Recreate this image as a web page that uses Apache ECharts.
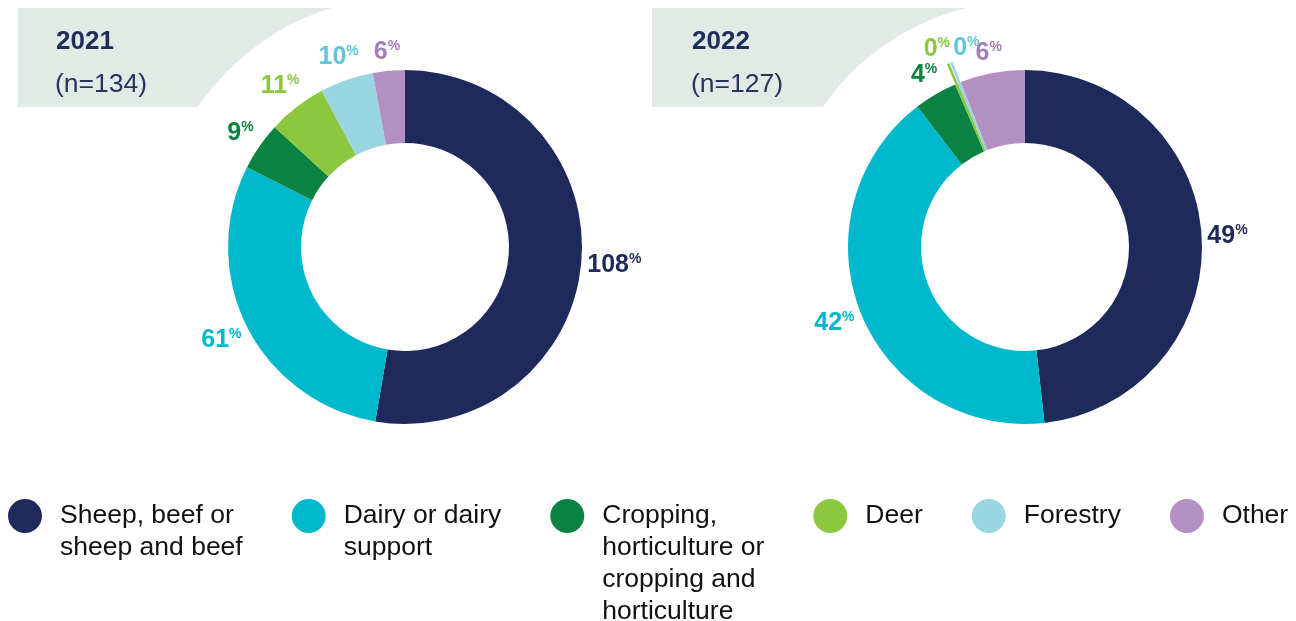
<!DOCTYPE html>
<html>
<head>
<meta charset="utf-8">
<script src="https://cdn.jsdelivr.net/npm/echarts@6/dist/echarts.min.js"></script>
<style>
  html, body { margin: 0; padding: 0; background: #ffffff; }
  #chart { width: 1296px; height: 621px; }
</style>
</head>
<body>
<div id="chart"></div>
<script>
// Farm types, one entry per slice / legend item
const categories = [
  'Sheep, beef or sheep and beef',
  'Dairy or dairy support',
  'Cropping, horticulture or cropping and horticulture',
  'Deer',
  'Forestry',
  'Other'
];
// Legend text, broken into lines
const legendLines = [
  ['Sheep, beef or', 'sheep and beef'],
  ['Dairy or dairy', 'support'],
  ['Cropping,', 'horticulture or', 'cropping and', 'horticulture'],
  ['Deer'],
  ['Forestry'],
  ['Other']
];
const years = ['2021', '2022'];
const sampleSizes = ['(n=134)', '(n=127)'];
const values2021 = [108, 61, 9, 11, 10, 6];
const values2022 = [49, 42, 4, 0, 0, 6];

// Styling
const sliceColors = ['#1F2A5C', '#00B8CB', '#0A8241', '#8DC63F', '#9AD6E2', '#B490C2'];
const labelColors = ['#1F2A5C', '#00B8CB', '#0A8241', '#8DC63F', '#5EC5DA', '#A27EBA'];
const navy = '#1F2D5A';
const headerFill = '#E1EAE4';
const fontFamily = '"Liberation Sans", Arial, Helvetica, sans-serif';
const pieCenters = [[405, 247], [1025, 247]];
const headerCut = [250, 246];

const seriesValues = [values2021, values2022];

// Puts each value label just beyond its slice, along the slice's leader direction.
function placeLabel(params) {
  const pts = params.labelLinePoints;
  if (!pts) return {};
  const vals = seriesValues[params.seriesIndex];
  const p0 = pts[0], p1 = pts[1];
  let ux = p1[0] - p0[0], uy = p1[1] - p0[1];
  const len = Math.hypot(ux, uy) || 1;
  ux /= len; uy /= len;
  if (vals[params.dataIndex] === 0) {
    // empty categories: the label sits on the tip of its leader line
    const firstZero = vals.indexOf(0) === params.dataIndex;
    return {
      x: p1[0] + 2,
      y: p1[1] - 1,
      align: firstZero ? 'right' : 'left',
      verticalAlign: 'bottom',
      labelLinePoints: pts
    };
  }
  const hw = params.labelRect.width / 2, hh = params.labelRect.height / 2;
  const d = hw * Math.abs(ux) + hh * Math.abs(uy);
  return {
    x: p1[0] + ux * d,
    y: p1[1] + uy * d,
    align: 'center',
    verticalAlign: 'middle',
    labelLinePoints: pts
  };
}

function buildData(values) {
  return values.map(function (v, i) {
    const item = {
      name: categories[i],
      value: v,
      itemStyle: { color: sliceColors[i] },
      label: { color: labelColors[i] }
    };
    if (v === 0) {
      item.labelLine = { length: 22, lineStyle: { opacity: 1, width: 2.5 } };
    }
    return item;
  });
}

function pieSeries(idx, values) {
  return {
    type: 'pie',
    center: pieCenters[idx],
    radius: [104, 177],
    startAngle: 90,
    clockwise: true,
    minAngle: 1,
    avoidLabelOverlap: false,
    silent: true,
    itemStyle: { borderWidth: 0 },
    label: {
      show: true,
      position: 'outside',
      fontFamily: fontFamily,
      formatter: function (p) { return '{v|' + p.value + '}{p|%}'; },
      rich: {
        v: { fontSize: 25, fontWeight: 'bold', lineHeight: 26, fontFamily: fontFamily },
        p: { fontSize: 14, fontWeight: 'bold', lineHeight: 14, verticalAlign: 'top', fontFamily: fontFamily }
      }
    },
    labelLine: {
      show: true,
      length: 5,
      length2: 0,
      lineStyle: { opacity: 0 }
    },
    labelLayout: placeLabel,
    data: buildData(values)
  };
}

// Header panels: a tinted block with a circular bite around each ring
const graphics = [];
years.forEach(function (yr, i) {
  const left = i === 0 ? 18 : 652;
  const textX = i === 0 ? 56 : 692;
  graphics.push({
    type: 'rect', z: 0, silent: true,
    shape: { x: left, y: 8, width: pieCenters[i][0] - left, height: 99 },
    style: { fill: headerFill }
  });
  graphics.push({
    type: 'circle', z: 1, silent: true,
    shape: { cx: pieCenters[i][0], cy: pieCenters[i][1], r: headerCut[i] },
    style: { fill: '#ffffff' }
  });
  graphics.push({
    type: 'text', z: 5, silent: true, x: textX, y: 42,
    style: { text: yr, fill: navy, font: 'bold 26px ' + fontFamily, verticalAlign: 'middle' }
  });
  graphics.push({
    type: 'text', z: 5, silent: true, x: textX - 1, y: 85,
    style: { text: sampleSizes[i], fill: '#26355F', font: '26.5px ' + fontFamily, verticalAlign: 'middle' }
  });
});

const chart = echarts.init(document.getElementById('chart'), null, { renderer: 'canvas' });
chart.setOption({
  backgroundColor: '#ffffff',
  animation: false,
  graphic: graphics,
  legend: {
    data: categories,
    orient: 'horizontal',
    left: 8,
    top: 404,
    padding: 0,
    itemGap: 49,
    itemWidth: 60,
    itemHeight: 34,
    icon: 'circle',
    selectedMode: false,
    formatter: function (name) {
      const lines = legendLines[categories.indexOf(name)];
      // pad above so the first line sits level with the marker
      return new Array(lines.length).join('\n') + lines.join('\n');
    },
    textStyle: {
      fontFamily: fontFamily,
      fontSize: 26.5,
      lineHeight: 32,
      color: '#111111'
    }
  },
  series: [pieSeries(0, values2021), pieSeries(1, values2022)]
});
</script>
</body>
</html>
